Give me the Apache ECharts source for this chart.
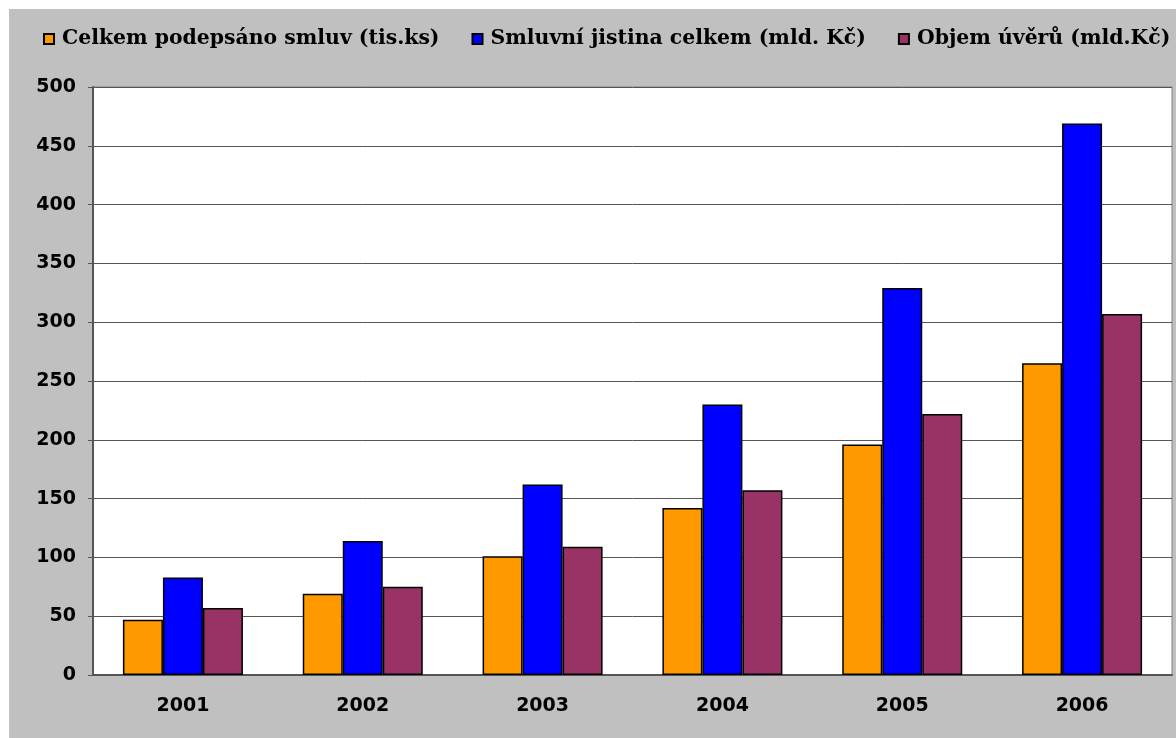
<!DOCTYPE html>
<html>
<head>
<meta charset="utf-8">
<script src="https://cdn.jsdelivr.net/npm/echarts@6/dist/echarts.min.js"></script>
<style>
  html, body { margin: 0; padding: 0; background: #ffffff; }
  #chart { position: absolute; left: 9px; top: 9px; width: 1167px; height: 729px; background: #c0c0c0; }
</style>
</head>
<body>
<div id="chart"></div>
<script>
// Roky a hodnoty jednotlivých řad
const years = ['2001', '2002', '2003', '2004', '2005', '2006'];
const smlouvy = [47, 69, 101, 142, 196, 265];      // Celkem podepsáno smluv (tis.ks)
const jistina = [83, 114, 162, 230, 329, 469];     // Smluvní jistina celkem (mld. Kč)
const uvery = [57, 75, 109, 157, 222, 307];        // Objem úvěrů (mld.Kč)
const seriesNames = ['Celkem podepsáno smluv (tis.ks)', 'Smluvní jistina celkem (mld. Kč)', 'Objem úvěrů (mld.Kč)'];
const seriesColors = ['#ff9900', '#0000ff', '#993366'];

const chart = echarts.init(document.getElementById('chart'));

const dataSets = [smlouvy, jistina, uvery];
const series = dataSets.map((d, i) => ({
  name: seriesNames[i],
  type: 'bar',
  data: d,
  barWidth: 40,
  barGap: '0%',
  itemStyle: { color: seriesColors[i], borderColor: '#000', borderWidth: 1.5 },
  emphasis: { disabled: true }
}));

chart.setOption({
  backgroundColor: '#c0c0c0',
  animation: false,
  legend: {
    top: 20,
    left: 34,
    width: 1133,
    padding: 0,
    itemWidth: 10,
    itemHeight: 10,
    itemGap: 32,
    icon: 'rect',
    textStyle: { fontFamily: 'DejaVu Serif', fontWeight: 'bold', fontSize: 20.4, color: '#000', padding: [0, 0, 0, 3] },
    data: seriesNames
  },
  grid: { left: 84, top: 78, right: 4, bottom: 63, show: true, backgroundColor: '#ffffff', borderColor: '#808080', borderWidth: 1 },
  xAxis: {
    type: 'category',
    data: years,
    axisLine: { lineStyle: { color: '#555', width: 2 } },
    axisTick: { length: 5, lineStyle: { color: '#555' } },
    axisLabel: { margin: 22, fontFamily: 'DejaVu Sans', fontWeight: 'bold', fontSize: 19, color: '#000' }
  },
  yAxis: {
    type: 'value',
    min: 0,
    max: 500,
    interval: 50,
    axisLine: { show: true, lineStyle: { color: '#555', width: 2 } },
    axisTick: { show: true, length: 5, lineStyle: { color: '#555' } },
    axisLabel: { margin: 17, fontFamily: 'DejaVu Sans', fontWeight: 'bold', fontSize: 19, color: '#000' },
    splitLine: { lineStyle: { color: '#555', width: 1 } }
  },
  series: series
});
</script>
</body>
</html>
